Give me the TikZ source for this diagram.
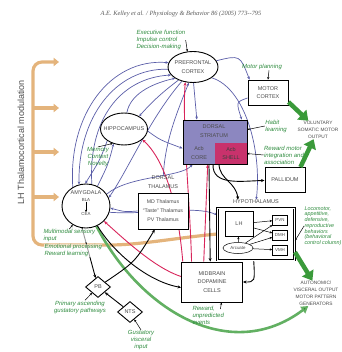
\documentclass[tikz,border=0pt]{standalone}
\usepackage{fontspec}
\setmainfont{Liberation Sans}
\newfontfamily\jrnfont{Liberation Serif}
\usetikzlibrary{shapes,positioning,arrows.meta,backgrounds}

\definecolor{ctxblue}{HTML}{5B5EA8}
\definecolor{darred}{HTML}{D8245A}
\definecolor{lhtan}{HTML}{E4B47C}
\definecolor{fungreen}{HTML}{2E8B3E}
\definecolor{outgreen}{HTML}{3A9A3A}
\definecolor{viscgreen}{HTML}{62B062}
\definecolor{strpurple}{HTML}{8C87C0}
\definecolor{shellred}{HTML}{C8326C}
\definecolor{txtgray}{HTML}{4A4A4A}

\begin{document}
\begin{tikzpicture}[x=1pt,y=-1pt,
    every node/.style={text=txtgray},
    lbl/.style={font=\fontsize{5.5}{8.5}\selectfont, align=center, inner sep=0pt},
    region/.style={lbl, draw=black, line width=0.9pt, fill=white},
    oval/.style={region, ellipse},
    box/.style={region, rectangle},
    tiny/.style={lbl, font=\fontsize{4.4}{5}\selectfont},
    func/.style={font=\fontsize{6}{6.9}\selectfont\itshape, text=fungreen, align=left, inner sep=0.3pt},
    outtxt/.style={font=\fontsize{4.8}{6.8}\selectfont, align=center, inner sep=0.5pt},
    glu/.style={draw=ctxblue, line width=0.7pt, -{Stealth[length=3pt,width=2.6pt]}},
    da/.style={draw=darred, line width=0.9pt, -{Stealth[length=3.5pt,width=3pt]}},
    gaba/.style={draw=black, line width=0.9pt, -{Stealth[length=3.5pt,width=3pt]}},
    point/.style={draw=black, line width=0.5pt, -{Stealth[length=2.5pt,width=2.2pt]}},
    lhband/.style={draw=lhtan, line width=3.2pt, -{Triangle[length=5.5pt,width=8.5pt]}},
    bigout/.style={draw=outgreen, line width=4.5pt, -{Triangle[length=9pt,width=13pt]}},
  ]
  \useasboundingbox (0,0) rectangle (341,352);

  \node[font={\jrnfont\itshape\fontsize{6.4}{7}\selectfont}, text=black!65] (hdr) at (181,14) {A.E. Kelley et al. / Physiology \& Behavior 86 (2005) 773--795};
  \node[rotate=90, font=\fontsize{9}{10}\selectfont, text=black!70] (lhtc) at (21,142) {LH Thalamocortical modulation};

  \node[oval, minimum width=50, minimum height=31] (pfc) at (193,67) {};
  \node[lbl] (pfct) at (pfc) {PREFRONTAL\\CORTEX};
  \node[oval, minimum width=47, minimum height=32] (hip) at (124,129) {};
  \node[lbl] (hipt) at (hip) {HIPPOCAMPUS};
  \node[oval, minimum width=48, minimum height=44] (amy) at (86,206) {};
  \node[lbl] (amyt) at (86,193) {AMYGDALA};
  \node[tiny] (bla) at (86,200) {BLA};
  \node[tiny] (cea) at (86,214) {CEA};

  \node[box, minimum width=40, minimum height=25] (mot) at (268,92.5) {MOTOR\\CORTEX};
  \node[box, fill=strpurple, minimum width=64, minimum height=44] (str) at (215,142) {};
  \node[lbl, fill=shellred, text=black!75, minimum width=31.5, minimum height=20.5, anchor=south east] (shell) at ([xshift=-0.45pt,yshift=0.45pt]str.south east) {Acb\\SHELL};
  \node[lbl, text=black!70] (strt) at (214,131) {DORSAL\\STRIATUM};
  \node[lbl, text=black!70] (core) at (199,153) {Acb\\CORE};
  \node[box, minimum width=40, minimum height=25] (pal) at (285,180) {PALLIDUM};

  \node[box, font=\fontsize{5.2}{9}\selectfont, minimum width=50, minimum height=36] (thal) at (163,211) {MD Thalamus\\``Taste'' Thalamus\\PV Thalamus};
  \node[lbl, above=4pt of thal] (thalt) {DORSAL\\THALAMUS};

  \node[box, double, double distance=0.7pt, minimum width=77, minimum height=52] (hyp) at (256,234) {};
  \node[lbl, above=3.5pt of hyp] (hypt) {HYPOTHALAMUS};
  \node[box, line width=0.5pt, minimum width=28, minimum height=25] (lh) at (239,224) {LH};
  \node[oval, line width=0.5pt, minimum width=30, minimum height=11] (arcu) at (238,248) {};
  \node[tiny] (arcut) at (arcu) {Arcuate};
  \node[box, tiny, draw, line width=0.5pt, fill=white, minimum width=15, minimum height=10] (pvn) at (280,220) {PVN};
  \node[box, tiny, draw, line width=0.5pt, fill=white, minimum width=15, minimum height=10] (dmh) at (280,235) {DMH};
  \node[box, tiny, draw, line width=0.5pt, fill=white, minimum width=15, minimum height=10] (vmh) at (280,250) {VMH};

  \node[box, minimum width=61, minimum height=40] (mid) at (212,282) {MIDBRAIN\\DOPAMINE\\CELLS};
  \node[region, diamond, minimum width=25, minimum height=21] (pb) at (98,287) {PB};
  \node[region, diamond, minimum width=25, minimum height=21] (nts) at (130,312) {NTS};

  \node[func, anchor=north west] (exe) at (136,30) {Executive function\\Impulse control\\Decision-making};
  \node[func] (mpl) at (262,67) {Motor planning};
  \node[func] (hab) at (276,126) {Habit\\learning};
  \node[func] (rmi) at (284,155) {Reward motor\\integration and\\association};
  \node[func, align=center] (mem) at (98,157) {Memory\\Context\\Novelty};
  \node[func, anchor=north west, font=\fontsize{5.4}{5.7}\selectfont\itshape] (loco) at (304,206) {Locomotor,\\appetitive,\\defensive,\\reproductive\\behaviors\\(behavioral\\control column)};
  \node[func, anchor=north west] (rew) at (192,306) {Reward,\\unpredicted\\events};
  \node[func, anchor=north west, fill=white, fill opacity=0.6, text opacity=1] (mms) at (43,229) {Multimodal sensory\\input};
  \node[func, anchor=north west, fill=white, fill opacity=0.6, text opacity=1] (emo) at (44,244) {Emotional processing\\Reward learning};
  \node[func, align=center] (pga) at (80,307) {Primary ascending\\gustatory pathways};
  \node[func, align=center] (gvi) at (141,340) {Gustatory\\visceral\\input};

  \node[outtxt] (vso) at (318,130) {VOLUNTARY\\SOMATIC MOTOR\\OUTPUT};
  \node[outtxt] (aut) at (316,286.5) {AUTONOMIC/\\VISCERAL OUTPUT};
  \node[outtxt, below=2pt of aut] (mpg) {MOTOR PATTERN\\GENERATORS};

  \coordinate (lhtop) at (33,62);
  \coordinate (lhtip) at (59,62);
  \coordinate (lhbot) at (33,245);

  \begin{scope}[on background layer]
    \draw[lhband, rounded corners=9] (hyp.west) .. controls (175,238) and (140,245) .. (100,245) -- (lhbot) -- (lhtop) -- (lhtip);
    \foreach \yb [count=\i] in {108,152,197} {
      \coordinate (lhs\i) at (33,\yb);
      \coordinate (lhe\i) at (59,\yb);
      \draw[lhband] (lhs\i) -- (lhe\i);
    }
    \draw[draw=viscgreen, line width=2.6pt, -{Triangle[length=7pt,width=8pt,fill=outgreen!80!black]}] (amy) .. controls (140,310) and (230,365) .. (mpg);

    \draw[glu] (amy.125) .. controls (68,115) and (110,58) .. (pfc.170);
    \draw[glu] (pfc.185) .. controls (115,68) and (78,118) .. (amy.108);
    \draw[glu] (amy.75) .. controls (88,120) and (120,78) .. (pfc.200);
    \draw[glu] (hip.80) .. controls (130,95) and (150,84) .. (pfc.212);
    \draw[glu] (pfc.222) .. controls (160,94) and (150,104) .. (hip.40);
    \draw[glu] (hip.215) .. controls (100,160) .. (amy.92);
    \draw[glu] (amy.60) .. controls (108,165) .. (hip.235);
    \draw[glu] (pfc.232) .. controls (150,118) and (128,170) .. (amy.20);
    \draw[glu] (thalt) .. controls (165,140) and (178,110) .. (pfc.255);
    \draw[glu] (hip.-5) .. controls (160,140) .. (str.191);
    \draw[glu] (amy.30) .. controls (130,175) and (180,178) .. (str.225);
    \draw[glu] (thal.west) .. controls (125,212) .. (amy.-5);
    \draw[glu] (amy.-15) .. controls (150,215) and (195,205) .. (hyp.154);
    \draw[glu] (pfc.272) .. controls (195,100) .. (str.129);
    \draw[glu] (pfc.15) .. controls (240,55) .. (mot.145);
    \draw[glu] (mot.195) .. controls (236,102) .. (str.40);
    \draw[glu] (pfc.330) .. controls (245,88) and (262,150) .. (hypt);

    \draw[da] (mid.135) .. controls (190,200) and (182,125) .. (pfc.243);
    \draw[da] (mid.112) -- (str.252);
    \draw[da] (mid.145) .. controls (178,205) and (165,160) .. (hip.-30);
    \draw[da] (mid.170) .. controls (155,268) and (125,240) .. (amy.-40);

    \draw[gaba] (amy.-60) .. controls (115,255) and (150,282) .. (mid.190);
    \draw[gaba] (amy.-100) -- (pb);
    \draw[gaba] (nts) -- (pb);
    \draw[gaba] (pb) .. controls (135,262) .. (thal.246);
    \draw[gaba] (str.255) -- (mid.95);
    \draw[gaba] (str.265) .. controls (212,186) and (242,181) .. (pal);
    \draw[gaba] (str.280) .. controls (220,180) and (236,182) .. ([xshift=5pt]hypt.north west);
    \draw[gaba] (hyp.265) .. controls (255,282) .. (mid.east);
  \end{scope}

  \draw[point] (bla) -- (cea);
  \foreach \hn in {pvn,dmh} \draw[point] (lh) -- (\hn);
  \foreach \hn in {lh,pvn,dmh,vmh} \draw[point] (arcu) -- (\hn);
  \draw[point] (exe.east) -- (pfc.110);
  \draw[point] ([xshift=7pt]mpl.south) -- (mot.north);
  \draw[point] (hab.west) -- (str.21);
  \draw[point] (rmi.west) -- (shell.east);
  \draw[point] (mem.north) -- (hip.232);
  \draw[point] (loco.west) -- (hyp.-10);
  \draw[point] ([xshift=-4pt,yshift=-3pt]rew.north east) -- (mid.-65);
  \draw[point] (mms.north) -- (amy.235);
  \draw[point] ([xshift=5pt]pga.north) -- (pb.225);
  \draw[point] (gvi.north) -- (nts.300);

  \draw[bigout] (mot.-25) -- (vso);
  \draw[bigout] (pal.40) -- (vso);
  \draw[bigout] (hyp.-25) -- (aut);
\end{tikzpicture}
\end{document}
